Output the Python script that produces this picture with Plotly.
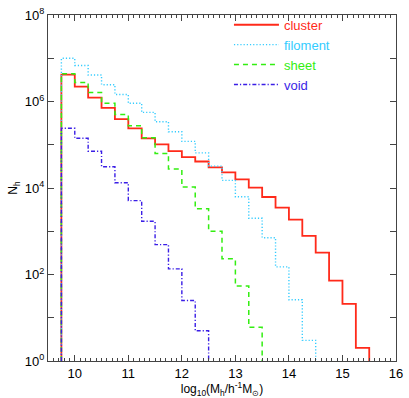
import plotly.graph_objects as go

# bin edges in log10(M_h / h^-1 M_sun)
mass_edges = [9.75, 10.0, 10.25, 10.5, 10.75, 11.0, 11.25, 11.5, 11.75, 12.0,
              12.25, 12.5, 12.75, 13.0, 13.25, 13.5, 13.75, 14.0, 14.25, 14.5,
              14.75, 15.0, 15.25, 15.5]

# halo counts per bin for each environment
cluster = [4.2e6, 2.2e6, 1.23e6, 7.1e5, 3.9e5, 2.4e5, 1.41e5, 1.02e5, 7.1e4, 5.2e4,
           4.1e4, 3.0e4, 2.3e4, 1.58e4, 1.02e4, 6.2e3, 3.5e3, 1.86e3, 780, 320,
           72, 21, 2]
filament = [1.0e7, 6.8e6, 4.1e6, 2.45e6, 1.45e6, 9.1e5, 5.6e5, 3.4e5, 2.0e5, 1.2e5,
            6.5e4, 3.2e4, 1.5e4, 6.3e3, 2.0e3, 710, 150, 26, 3]
sheet = [4.4e6, 2.75e6, 1.62e6, 9.1e5, 5.0e5, 2.75e5, 1.45e5, 6.3e4, 2.75e4, 1.05e4,
         3.3e3, 1.0e3, 230, 54, 6]
void = [2.4e5, 1.41e5, 7.1e4, 3.1e4, 1.32e4, 5.1e3, 1.7e3, 490, 135, 25, 5]

series = [
    ('cluster', cluster, '#ff2a1a', 'solid', 1.8),
    ('filoment', filament, '#33ccff', '1.2px,2px', 1.4),
    ('sheet', sheet, '#33ee11', '5px,4px', 1.5),
    ('void', void, '#3a1ee6', '4px,2px,1.2px,2px', 1.4),
]

fig = go.Figure()
for name, counts, color, dash, width in series:
    n = len(counts)
    xs = [mass_edges[0]] + mass_edges[:n] + [mass_edges[n]]
    ys = [1] + counts + [1]
    fig.add_trace(go.Scatter(
        x=xs, y=ys, mode='lines', line_shape='hv',
        line=dict(color=color, dash=dash, width=width),
        name='<span style="color:%s">%s</span>' % (color, name),
        hoverinfo='skip'))

ytick_vals = [10 ** k for k in range(0, 9)]
ytick_text = ['10<sup>%d</sup>' % k if k % 2 == 0 else '' for k in range(0, 9)]

fig.update_layout(
    width=409, height=398,
    margin=dict(l=48, r=8, t=6, b=37),
    paper_bgcolor='white', plot_bgcolor='white',
    font=dict(family='Liberation Sans, Arial, sans-serif', size=12, color='black'),
    showlegend=True,
    legend=dict(x=0.52, y=1.015, xanchor='left', yanchor='top',
                bgcolor='rgba(0,0,0,0)', font=dict(size=13),
                tracegroupgap=0, itemwidth=45),
)

fig.update_xaxes(
    range=[9.5, 16], tickmode='array', tickvals=[10, 11, 12, 13, 14, 15, 16],
    ticks='inside', ticklen=6, tickcolor='#444', showline=True, linecolor='#444',
    linewidth=1, mirror='allticks', showgrid=False, zeroline=False,
    ticklabeloverflow='allow', tickfont=dict(size=13),
    minor=dict(dtick=0.1, tick0=9.5, ticks='inside', ticklen=3, tickcolor='#444', showgrid=False),
    title=dict(text='log<sub>10</sub>(M<sub>h</sub>/h<sup>-1</sup>M<sub>⊙</sub>)',
               standoff=2, font=dict(size=12)),
)
fig.update_yaxes(
    type='log', range=[-0.0005, 8.0005], tickmode='array', tickvals=ytick_vals, ticktext=ytick_text,
    ticks='inside', ticklen=6, tickcolor='#444', showline=True, linecolor='#444',
    linewidth=1, mirror='allticks', showgrid=False, zeroline=False,
    ticklabeloverflow='allow', tickfont=dict(size=13),
    title=dict(text='N<sub>h</sub>', standoff=4, font=dict(size=12)),
)

fig.write_html("out.html", config={'displayModeBar': False},
               post_script="document.body.style.margin='0';")
